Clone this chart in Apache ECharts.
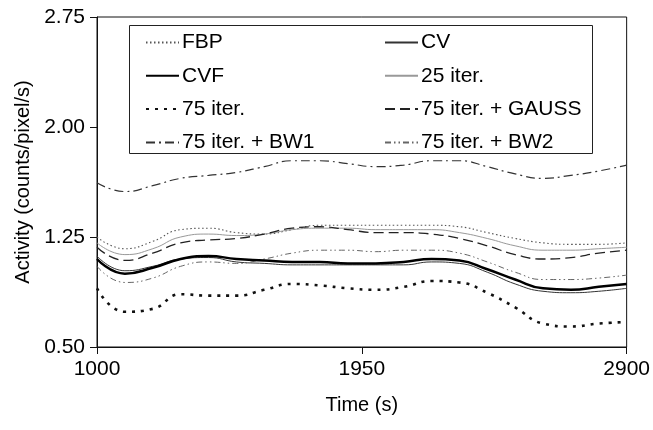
<!DOCTYPE html>
<html>
<head>
<meta charset="utf-8">
<script src="https://cdn.jsdelivr.net/npm/echarts@6/dist/echarts.min.js"></script>
<style>
  html, body { margin: 0; padding: 0; background: #fff; }
  #chart { width: 653px; height: 430px; }
</style>
</head>
<body>
<div id="chart"></div>
<script>
// Sampling times (s)
const times = [1000, 1100, 1200, 1300, 1400, 1500, 1600, 1700, 1800, 1900,
               2000, 2100, 2200, 2300, 2400, 2500, 2600, 2700, 2800, 2900];

// Activity curves (counts/pixel/s) for each reconstruction
const fbp      = [1.25, 1.17, 1.22, 1.30, 1.31, 1.28, 1.27, 1.30, 1.33, 1.33, 1.33, 1.33, 1.33, 1.32, 1.28, 1.24, 1.21, 1.20, 1.20, 1.21];
const cv       = [1.12, 1.02, 1.05, 1.10, 1.11, 1.08, 1.07, 1.06, 1.06, 1.06, 1.06, 1.06, 1.08, 1.07, 1.01, 0.93, 0.88, 0.87, 0.88, 0.90];
const cvf      = [1.10, 1.00, 1.04, 1.10, 1.12, 1.10, 1.09, 1.08, 1.08, 1.07, 1.07, 1.08, 1.10, 1.09, 1.03, 0.96, 0.90, 0.89, 0.91, 0.93];
const iter25   = [1.21, 1.13, 1.17, 1.25, 1.27, 1.26, 1.27, 1.30, 1.31, 1.31, 1.30, 1.30, 1.30, 1.28, 1.24, 1.19, 1.16, 1.16, 1.17, 1.18];
const iter75   = [0.90, 0.74, 0.76, 0.86, 0.85, 0.85, 0.89, 0.93, 0.92, 0.90, 0.89, 0.91, 0.95, 0.94, 0.87, 0.77, 0.66, 0.64, 0.66, 0.67];
const gauss    = [1.18, 1.09, 1.14, 1.21, 1.23, 1.24, 1.27, 1.31, 1.32, 1.30, 1.28, 1.28, 1.27, 1.24, 1.19, 1.13, 1.10, 1.11, 1.14, 1.16];
const bw1      = [1.62, 1.56, 1.60, 1.65, 1.67, 1.69, 1.73, 1.77, 1.77, 1.75, 1.73, 1.74, 1.77, 1.77, 1.73, 1.68, 1.65, 1.67, 1.70, 1.74];
const bw2      = [1.05, 0.94, 0.97, 1.05, 1.08, 1.07, 1.10, 1.14, 1.16, 1.16, 1.15, 1.16, 1.16, 1.14, 1.08, 1.01, 0.96, 0.96, 0.97, 0.99];

// Axis ticks
const xTicks = [1000, 1950, 2900];
const yTicks = [0.50, 1.25, 2.00, 2.75];

const seriesNames = ['FBP', 'CV', 'CVF', '25 iter.', '75 iter.', '75 iter. + GAUSS', '75 iter. + BW1', '75 iter. + BW2'];
const seriesValues = [fbp, cv, cvf, iter25, iter75, gauss, bw1, bw2];
const leftColumn = ['FBP', 'CVF', '75 iter.', '75 iter. + BW1'];
const rightColumn = ['CV', '25 iter.', '75 iter. + GAUSS', '75 iter. + BW2'];

// Line appearance per series
const lineStyles = {
  'FBP':              { color: '#555', width: 1.1, type: [1.5, 2.5] },
  'CV':               { color: '#333', width: 1,   type: 'solid' },
  'CVF':              { color: '#000', width: 2.5, type: 'solid' },
  '25 iter.':         { color: '#999', width: 1,   type: 'solid' },
  '75 iter.':         { color: '#111', width: 2.6, type: [3, 6] },
  '75 iter. + GAUSS': { color: '#222', width: 1.3, type: [10, 5] },
  '75 iter. + BW1':   { color: '#333', width: 1.2, type: [9, 4, 2, 4] },
  '75 iter. + BW2':   { color: '#666', width: 1,   type: [6, 3, 1.5, 3, 1.5, 3] }
};

const font = 'Liberation Sans, Arial, sans-serif';

const series = seriesNames.map((name, i) => ({
  name: name,
  type: 'line',
  symbol: 'none',
  smooth: 0.5,
  data: times.map((t, j) => [t, seriesValues[i][j]]),
  lineStyle: Object.assign({ cap: 'butt' }, lineStyles[name]),
  itemStyle: { color: lineStyles[name].color },
  emphasis: { disabled: true },
  z: name === 'CVF' ? 5 : 3
}));

const legendCommon = {
  orient: 'vertical',
  top: 32,
  padding: 0,
  itemWidth: 33,
  itemHeight: 10,
  itemGap: 12.3,
  selectedMode: false,
  itemStyle: { opacity: 0 },
  textStyle: { fontFamily: font, fontSize: 21, color: '#000', lineHeight: 21, padding: [0, 0, 0, -2] }
};

const chart = echarts.init(document.getElementById('chart'), null, { renderer: 'canvas' });
chart.setOption({
  animation: false,
  backgroundColor: '#fff',
  grid: {
    left: 97, right: 25, top: 17, bottom: 83,
    show: true, borderColor: '#111', borderWidth: 1
  },
  legend: [
    Object.assign({ left: 145, data: leftColumn }, legendCommon),
    Object.assign({ left: 384, data: rightColumn }, legendCommon)
  ],
  graphic: [{
    type: 'rect',
    shape: { x: 129.5, y: 25.5, width: 463, height: 128 },
    style: { fill: 'none', stroke: '#222', lineWidth: 1 },
    z: 10
  }],
  xAxis: {
    type: 'value',
    min: 1000, max: 2900,
    name: 'Time (s)',
    nameLocation: 'middle',
    nameGap: 48,
    nameTextStyle: { fontFamily: font, fontSize: 20, color: '#000' },
    axisLine: { show: true, lineStyle: { color: '#111', width: 1 } },
    axisTick: { show: true, inside: false, length: 7, customValues: xTicks, lineStyle: { color: '#111' } },
    axisLabel: {
      customValues: xTicks,
      formatter: v => String(v),
      fontFamily: font, fontSize: 21, color: '#000', margin: 12
    },
    splitLine: { show: false }
  },
  yAxis: {
    type: 'value',
    min: 0.5, max: 2.75,
    name: 'Activity (counts/pixel/s)',
    nameLocation: 'middle',
    nameGap: 64,
    nameRotate: 90,
    nameTextStyle: { fontFamily: font, fontSize: 20, color: '#000' },
    axisLine: { show: true, lineStyle: { color: '#111', width: 1 } },
    axisTick: { show: true, inside: false, length: 7, customValues: yTicks, lineStyle: { color: '#111' } },
    axisLabel: {
      customValues: yTicks,
      formatter: v => v.toFixed(2),
      fontFamily: font, fontSize: 21, color: '#000', margin: 12
    },
    splitLine: { show: false }
  },
  series: series
});
</script>
</body>
</html>
